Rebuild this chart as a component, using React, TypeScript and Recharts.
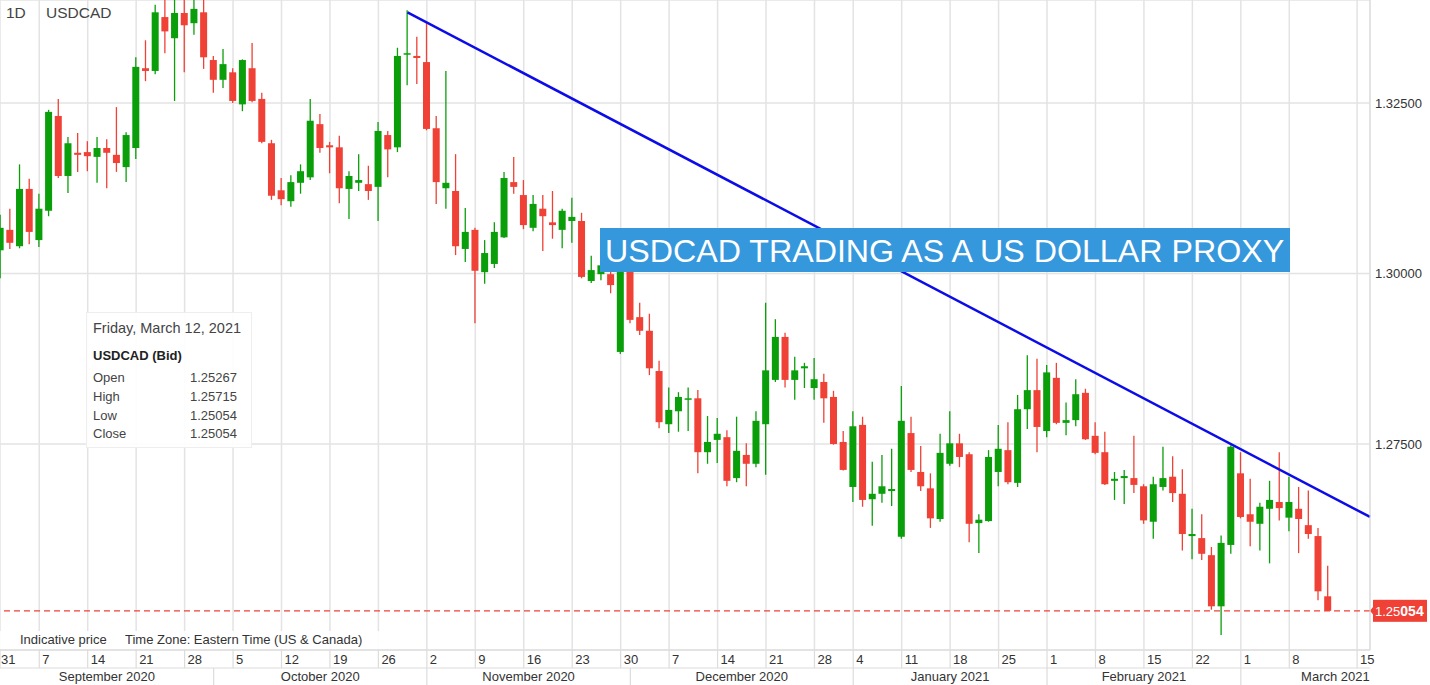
import React from 'react';
import { ComposedChart, Bar, XAxis, YAxis, CartesianGrid, ReferenceLine } from 'recharts';

// daily USDCAD candles, 1 Sep 2020 - 12 Mar 2021 (weekdays, no candle on 1 Jan)
const opens = [
  1.3034, 1.3064, 1.3040, 1.3124, 1.3049, 1.3092, 1.3231, 1.3143, 1.3177, 1.3178,
  1.3171, 1.3184, 1.3174, 1.3156, 1.3184, 1.3301, 1.3297, 1.3376, 1.3345, 1.3382,
  1.3367, 1.3383, 1.3313, 1.3284, 1.3295, 1.3248, 1.3301, 1.3256, 1.3191, 1.3122,
  1.3106, 1.3133, 1.3141, 1.3219, 1.3188, 1.3185, 1.3124, 1.3133, 1.3131, 1.3127,
  1.3203, 1.3185, 1.3322, 1.3319, 1.3310, 1.3213, 1.3125, 1.3121, 1.3036, 1.3064,
  1.3002, 1.3014, 1.3053, 1.3134, 1.3115, 1.3067, 1.3095, 1.3075, 1.3064, 1.3077,
  1.3077, 1.2989, 1.2999, 1.2999, 1.2885, 1.3008, 1.2936, 1.2916, 1.2857, 1.2779,
  1.2798, 1.2815, 1.2817, 1.2738, 1.2756, 1.2760, 1.2700, 1.2734, 1.2721, 1.2779,
  1.2844, 1.2907, 1.2844, 1.2861, 1.2832, 1.2841, 1.2819, 1.2753, 1.2687, 1.2778,
  1.2669, 1.2677, 1.2681, 1.2614, 1.2766, 1.2709, 1.2685, 1.2640, 1.2721, 1.2751,
  1.2735, 1.2634, 1.2637, 1.2709, 1.2741, 1.2693, 1.2801, 1.2829, 1.2769, 1.2847,
  1.2781, 1.2785, 1.2825, 1.2762, 1.2738, 1.2696, 1.2700, 1.2700, 1.2688, 1.2636,
  1.2687, 1.2702, 1.2677, 1.2615, 1.2612, 1.2587, 1.2512, 1.2602, 1.2707, 1.2647,
  1.2633, 1.2655, 1.2665, 1.2642, 1.2655, 1.2631, 1.2615, 1.25267,
];
const highs = [
  1.3086, 1.3095, 1.3160, 1.3139, 1.3117, 1.3240, 1.3256, 1.3200, 1.3206, 1.3194,
  1.3200, 1.3197, 1.3244, 1.3207, 1.3317, 1.3342, 1.3394, 1.3404, 1.3405, 1.3405,
  1.3405, 1.3404, 1.3319, 1.3329, 1.3301, 1.3314, 1.3338, 1.3265, 1.3196, 1.3140,
  1.3144, 1.3160, 1.3256, 1.3234, 1.3193, 1.3202, 1.3150, 1.3175, 1.3158, 1.3222,
  1.3209, 1.3331, 1.3386, 1.3347, 1.3367, 1.3231, 1.3297, 1.3175, 1.3096, 1.3067,
  1.3049, 1.3075, 1.3149, 1.3171, 1.3137, 1.3115, 1.3115, 1.3121, 1.3095, 1.3111,
  1.3089, 1.3026, 1.3023, 1.3011, 1.3017, 1.3023, 1.2957, 1.2941, 1.2872, 1.2833,
  1.2826, 1.2833, 1.2829, 1.2791, 1.2788, 1.2770, 1.2790, 1.2751, 1.2798, 1.2957,
  1.2933, 1.2913, 1.2878, 1.2869, 1.2876, 1.2853, 1.2828, 1.2769, 1.2798, 1.2790,
  1.2724, 1.2734, 1.2743, 1.2835, 1.2790, 1.2747, 1.2707, 1.2765, 1.2798, 1.2765,
  1.2738, 1.2647, 1.2741, 1.2778, 1.2782, 1.2822, 1.2880, 1.2875, 1.2866, 1.2869,
  1.2811, 1.2845, 1.2831, 1.2782, 1.2768, 1.2709, 1.2712, 1.2762, 1.2691, 1.2702,
  1.2746, 1.2732, 1.2713, 1.2655, 1.2647, 1.2599, 1.2616, 1.2748, 1.2738, 1.2699,
  1.2664, 1.2696, 1.2738, 1.2702, 1.2687, 1.2682, 1.2627, 1.25715,
];
const lows = [
  1.2993, 1.3036, 1.3037, 1.3043, 1.3039, 1.3084, 1.3140, 1.3118, 1.3149, 1.3150,
  1.3133, 1.3125, 1.3149, 1.3134, 1.3168, 1.3282, 1.3292, 1.3323, 1.3253, 1.3295,
  1.3350, 1.3300, 1.3265, 1.3272, 1.3250, 1.3238, 1.3251, 1.3191, 1.3108, 1.3100,
  1.3098, 1.3117, 1.3137, 1.3177, 1.3147, 1.3103, 1.3080, 1.3121, 1.3108, 1.3077,
  1.3141, 1.3178, 1.3276, 1.3278, 1.3210, 1.3102, 1.3095, 1.3027, 1.3017, 1.2927,
  1.2985, 1.3008, 1.3052, 1.3117, 1.3065, 1.3062, 1.3033, 1.3051, 1.3037, 1.3045,
  1.2993, 1.2986, 1.2990, 1.2971, 1.2882, 1.2927, 1.2910, 1.2851, 1.2773, 1.2766,
  1.2768, 1.2769, 1.2707, 1.2721, 1.2722, 1.2688, 1.2694, 1.2688, 1.2716, 1.2705,
  1.2841, 1.2833, 1.2815, 1.2832, 1.2815, 1.2781, 1.2749, 1.2711, 1.2665, 1.2658,
  1.2630, 1.2664, 1.2659, 1.2611, 1.2709, 1.2681, 1.2627, 1.2636, 1.2718, 1.2716,
  1.2606, 1.2590, 1.2636, 1.2688, 1.2691, 1.2687, 1.2772, 1.2738, 1.2760, 1.2779,
  1.2763, 1.2776, 1.2756, 1.2735, 1.2690, 1.2668, 1.2662, 1.2678, 1.2633, 1.2611,
  1.2682, 1.2665, 1.2594, 1.2581, 1.2580, 1.2507, 1.2470, 1.2589, 1.2641, 1.2600,
  1.2594, 1.2575, 1.2638, 1.2622, 1.2590, 1.2611, 1.2521, 1.25054,
];
const closes = [
  1.3067, 1.3045, 1.3124, 1.3061, 1.3095, 1.3237, 1.3143, 1.3191, 1.3174, 1.3172,
  1.3184, 1.3177, 1.3162, 1.3203, 1.3303, 1.3297, 1.3383, 1.3355, 1.3382, 1.3364,
  1.3388, 1.3317, 1.3284, 1.3307, 1.3253, 1.3313, 1.3253, 1.3193, 1.3114, 1.3109,
  1.3134, 1.3150, 1.3224, 1.3184, 1.3185, 1.3125, 1.3143, 1.3137, 1.3121, 1.3209,
  1.3182, 1.3319, 1.3323, 1.3316, 1.3212, 1.3134, 1.3133, 1.3040, 1.3061, 1.3004,
  1.3030, 1.3061, 1.3140, 1.3127, 1.3071, 1.3102, 1.3084, 1.3071, 1.3092, 1.3083,
  1.2995, 1.3005, 1.3012, 1.2983, 1.3008, 1.2932, 1.2916, 1.2861, 1.2782, 1.2800,
  1.2819, 1.2817, 1.2738, 1.2753, 1.2765, 1.2696, 1.2740, 1.2721, 1.2784, 1.2858,
  1.2907, 1.2844, 1.2858, 1.2864, 1.2845, 1.2817, 1.2750, 1.2712, 1.2776, 1.2668,
  1.2677, 1.2688, 1.2684, 1.2784, 1.2712, 1.2688, 1.2641, 1.2737, 1.2751, 1.2731,
  1.2633, 1.2639, 1.2731, 1.2743, 1.2694, 1.2801, 1.2829, 1.2775, 1.2855, 1.2781,
  1.2785, 1.2823, 1.2757, 1.2737, 1.2691, 1.2699, 1.2703, 1.2690, 1.2638, 1.2691,
  1.2700, 1.2678, 1.2618, 1.2618, 1.2589, 1.2512, 1.2605, 1.2746, 1.2643, 1.2636,
  1.2658, 1.2668, 1.2656, 1.2665, 1.2640, 1.2618, 1.2534, 1.25054,
];

const monthNames = [
  'September 2020', 'October 2020', 'November 2020', 'December 2020',
  'January 2021', 'February 2021', 'March 2021',
];
const priceTicks = [1.275, 1.3, 1.325];
// trend line: from the 29 Oct high down to the right edge
const trendLine = [
  { i: 42, price: 1.3383 },
  { i: 141.33, price: 1.2643 },
];
const lastPrice = 1.25054;
const infoRows = [
  ['Open', '1.25267'],
  ['High', '1.25715'],
  ['Low', '1.25054'],
  ['Close', '1.25054'],
];

const FIRST_DAY = '2020-09-01';
const LAST_DAY = '2021-03-12';
const HOLIDAYS = ['2021-01-01'];

const W = 1430;
const H = 685;
const Y_AXIS_W = 60;
const PLOT_W = W - Y_AXIS_W;
const X_MIN = -0.05;
const X_MAX = 141.33;
const Y_MIN = 1.244795;
const Y_MAX = 1.340103;

const GREEN = '#0a9f0a';
const RED = '#ef4136';
const FONT = '"Liberation Sans", Arial, sans-serif';
const DAY = 86400000;

const tradingDays = (): Date[] => {
  const out: Date[] = [];
  const end = new Date(LAST_DAY + 'T00:00:00Z').getTime();
  for (let t = new Date(FIRST_DAY + 'T00:00:00Z').getTime(); t <= end; t += DAY) {
    const d = new Date(t);
    const wd = d.getUTCDay();
    if (wd === 0 || wd === 6) continue;
    if (HOLIDAYS.includes(d.toISOString().slice(0, 10))) continue;
    out.push(d);
  }
  return out;
};

const dates = tradingDays();
const candles = dates.map((d, i) => ({
  i,
  open: opens[i],
  high: highs[i],
  low: lows[i],
  close: closes[i],
  range: [lows[i], highs[i]],
}));

// week ticks sit on each Monday; the Monday before the first candle is pinned to the left edge,
// the Monday after the last candle is placed by calendar days
const lastIdx = dates.length - 1;
const weekTicks: { value: number; label: string }[] = [
  { value: X_MIN, label: String(new Date(dates[0].getTime() - DAY).getUTCDate()) },
];
dates.forEach((d, i) => {
  if (d.getUTCDay() === 1) weekTicks.push({ value: i, label: String(d.getUTCDate()) });
});
weekTicks.push({ value: lastIdx + 3, label: String(new Date(dates[lastIdx].getTime() + 3 * DAY).getUTCDate()) });

const monthTicks: { value: number; label: string }[] = [];
dates.forEach((d, i) => {
  if (i === 0 || d.getUTCMonth() !== dates[i - 1].getUTCMonth()) {
    monthTicks.push({ value: i === 0 ? X_MIN : i, label: monthNames[monthTicks.length] });
  }
});

const idxToPx = (v: number) => ((v - X_MIN) / (X_MAX - X_MIN)) * PLOT_W;

const Candle = (props: any) => {
  const { x, y, width, height, payload } = props;
  if (x == null || y == null) return null;
  const { open, close, high, low } = payload;
  const top = Math.min(y, y + height);
  const h = Math.abs(height);
  const py = (v: number) => (high === low ? top : top + ((high - v) / (high - low)) * h);
  const color = close >= open ? GREEN : RED;
  const cx = x + width / 2;
  const bodyTop = py(Math.max(open, close));
  const bodyH = Math.max(1.5, Math.abs(py(open) - py(close)));
  return (
    <g>
      <line x1={cx} x2={cx} y1={top} y2={top + h} stroke={color} strokeWidth={1.3} />
      <rect x={x} y={bodyTop} width={width} height={bodyH} fill={color} />
    </g>
  );
};

const WeekTick = (props: any) => {
  const { x, y, payload } = props;
  const t = weekTicks.find((w) => w.value === payload.value);
  return (
    <g>
      <line x1={x} x2={x} y1={y} y2={y + 18} stroke="#dcdcdc" strokeWidth={1.2} />
      <text x={x <= 1 ? 1 : x + 3} y={y + 14} fontSize={13} fill="#333" fontFamily={FONT}>
        {t ? t.label : ''}
      </text>
    </g>
  );
};

const MonthTick = (props: any) => {
  const { y, payload } = props;
  const k = monthTicks.findIndex((m) => m.value === payload.value);
  if (k < 0) return null;
  const start = idxToPx(monthTicks[k].value);
  const end = k < monthTicks.length - 1 ? idxToPx(monthTicks[k + 1].value) : W;
  return (
    <g>
      {k > 0 && <line x1={start} x2={start} y1={y} y2={y + 17} stroke="#dcdcdc" strokeWidth={1.2} />}
      <text x={(start + end) / 2} y={y + 13} textAnchor="middle" fontSize={13} fill="#333" fontFamily={FONT}>
        {monthTicks[k].label}
      </text>
    </g>
  );
};

const PriceTag = (props: any) => {
  const vb = props.viewBox || {};
  const x0 = (vb.x ?? 0) + (vb.width ?? 0);
  const y0 = vb.y ?? 0;
  const s = lastPrice.toFixed(5);
  return (
    <g>
      <polygon points={`${x0},${y0} ${x0 + 4},${y0 - 5} ${x0 + 4},${y0 + 5}`} fill={RED} />
      <rect x={x0 + 3} y={y0 - 11} width={54} height={22} fill={RED} />
      <text x={x0 + 5} y={y0 + 5} fill="#fff" fontFamily={FONT} fontSize={13}>
        {s.slice(0, 4)}
        <tspan fontWeight="bold" fontSize={14}>{s.slice(4)}</tspan>
      </text>
    </g>
  );
};

const App: React.FC = () => {
  return (
    <div style={{ position: 'absolute', left: 0, top: 0, width: W, height: H, background: '#fff', fontFamily: FONT }}>
      <ComposedChart
        width={W}
        height={H}
        data={candles}
        margin={{ top: 0, right: 0, bottom: 0, left: 0 }}
        style={{ fontFamily: FONT }}
      >
        <CartesianGrid xAxisId="days" yAxisId="price" stroke="#e3e3e3" strokeWidth={1.5} />
        <XAxis
          xAxisId="days"
          dataKey="i"
          type="number"
          domain={[X_MIN, X_MAX]}
          allowDataOverflow
          ticks={weekTicks.map((t) => t.value)}
          interval={0}
          tickSize={0}
          tickMargin={0}
          height={18}
          axisLine={{ stroke: '#dcdcdc' }}
          tickLine={false}
          tick={<WeekTick />}
        />
        <XAxis
          xAxisId="months"
          dataKey="i"
          type="number"
          domain={[X_MIN, X_MAX]}
          allowDataOverflow
          ticks={monthTicks.map((t) => t.value)}
          interval={0}
          tickSize={0}
          tickMargin={0}
          height={17}
          axisLine={{ stroke: '#dcdcdc' }}
          tickLine={false}
          tick={<MonthTick />}
        />
        <YAxis
          yAxisId="price"
          orientation="right"
          width={Y_AXIS_W}
          type="number"
          domain={[Y_MIN, Y_MAX]}
          allowDataOverflow
          ticks={priceTicks}
          interval={0}
          tickFormatter={(v: number) => v.toFixed(5)}
          tickSize={0}
          tickMargin={5}
          tickLine={false}
          axisLine={{ stroke: '#dcdcdc' }}
          tick={{ fontSize: 13, fill: '#333', fontFamily: FONT }}
        />
        <Bar
          xAxisId="days"
          yAxisId="price"
          dataKey="range"
          barSize={7}
          shape={<Candle />}
          isAnimationActive={false}
        />
        <ReferenceLine
          xAxisId="days"
          yAxisId="price"
          y={lastPrice}
          stroke={RED}
          strokeWidth={1.2}
          strokeDasharray="6 4"
          label={<PriceTag />}
        />
        <ReferenceLine
          xAxisId="days"
          yAxisId="price"
          segment={[
            { x: trendLine[0].i, y: trendLine[0].price },
            { x: trendLine[1].i, y: trendLine[1].price },
          ]}
          stroke="#0c0ce8"
          strokeWidth={2.5}
          ifOverflow="visible"
        />
      </ComposedChart>

      <div style={{ position: 'absolute', left: 6, top: 4, fontSize: 15.5, color: '#444' }}>1D</div>
      <div style={{ position: 'absolute', left: 46, top: 4, fontSize: 15.5, color: '#444' }}>USDCAD</div>

      <div
        style={{
          position: 'absolute',
          left: 600,
          top: 228,
          width: 690,
          height: 44,
          background: '#3597dc',
          color: '#fff',
          fontSize: 32.2,
          lineHeight: '46px',
          paddingLeft: 5,
          boxSizing: 'border-box',
          whiteSpace: 'nowrap',
          overflow: 'hidden',
        }}
      >
        USDCAD TRADING AS A US DOLLAR PROXY
      </div>

      <div
        style={{
          position: 'absolute',
          left: 86,
          top: 312,
          width: 166,
          height: 136,
          background: 'rgba(255,255,255,0.9)',
          border: '1px solid #eee',
          boxSizing: 'border-box',
          color: '#444',
        }}
      >
        <div style={{ position: 'absolute', left: 6, top: 7, fontSize: 14.5 }}>Friday, March 12, 2021</div>
        <div style={{ position: 'absolute', left: 6, top: 35, fontSize: 13, fontWeight: 'bold', color: '#222' }}>
          USDCAD (Bid)
        </div>
        {infoRows.map(([k, v], n) => (
          <div key={k} style={{ position: 'absolute', left: 6, top: 57 + n * 18.8, fontSize: 13, width: 150 }}>
            <span>{k}</span>
            <span style={{ position: 'absolute', left: 97 }}>{v}</span>
          </div>
        ))}
      </div>

      <div
        style={{
          position: 'absolute',
          left: 0,
          top: 631,
          width: 380,
          height: 18,
          background: 'rgba(255,255,255,0.9)',
          fontSize: 13,
          color: '#333',
          lineHeight: '18px',
        }}
      >
        <span style={{ position: 'absolute', left: 20 }}>Indicative price</span>
        <span style={{ position: 'absolute', left: 125 }}>Time Zone: Eastern Time (US &amp; Canada)</span>
      </div>
    </div>
  );
};

export default App;
